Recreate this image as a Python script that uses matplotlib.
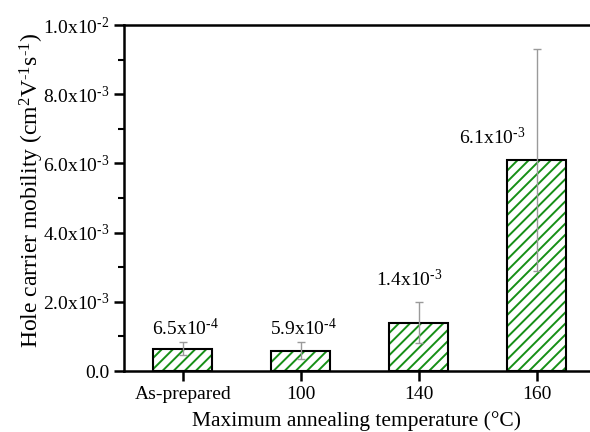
import matplotlib
matplotlib.use('Agg')
import matplotlib.pyplot as plt
from matplotlib.ticker import MultipleLocator

# 数据
categories = ['As-prepared', '100', '140', '160']
mobility = [6.5e-4, 5.9e-4, 1.4e-3, 6.1e-3]
mobility_err = [1.8e-4, 2.5e-4, 6.0e-4, 3.2e-3]
bar_labels = ['6.5x10$^{\\text{-4}}$', '5.9x10$^{\\text{-4}}$',
              '1.4x10$^{\\text{-3}}$', '6.1x10$^{\\text{-3}}$']
ytick_vals = [0.0, 2e-3, 4e-3, 6e-3, 8e-3, 1e-2]
ytick_labels = ['0.0', '2.0x10$^{\\text{-3}}$', '4.0x10$^{\\text{-3}}$',
                '6.0x10$^{\\text{-3}}$', '8.0x10$^{\\text{-3}}$', '1.0x10$^{\\text{-2}}$']

plt.rcParams['font.family'] = ['Liberation Serif', 'DejaVu Serif']
plt.rcParams['mathtext.fontset'] = 'custom'
plt.rcParams['mathtext.rm'] = 'Liberation Serif'
plt.rcParams['mathtext.it'] = 'Liberation Serif'
plt.rcParams['mathtext.default'] = 'regular'
plt.rcParams['hatch.linewidth'] = 1.4

fig = plt.figure(figsize=(5.9, 4.32), dpi=100)
ax = fig.add_axes([0.210, 0.141, 0.790, 0.801])

x = list(range(len(categories)))
# 绿色斜线填充
ax.bar(x, mobility, width=0.5, color='white', edgecolor='#168f16',
       hatch='///', linewidth=0, zorder=2)
# 黑色边框
ax.bar(x, mobility, width=0.5, color='none', edgecolor='black',
       linewidth=1.5, zorder=3)
ax.errorbar(x, mobility, yerr=mobility_err, fmt='none', ecolor='#9a9a9a',
            elinewidth=1.0, capsize=3, capthick=1.0, zorder=4)

# 数值标注
label_pos = [(0.02, 1.05e-3), (0.02, 1.05e-3), (-0.08, 2.45e-3), (-0.38, 6.55e-3)]
for (lx, ly), xi, txt in zip(label_pos, x, bar_labels):
    ax.text(xi + lx, ly, txt, ha='center', va='baseline', fontsize=14)

ax.set_xlim(-0.5, 3.45)
ax.set_ylim(0, 1e-2)
ax.set_xticks(x)
ax.set_xticklabels(categories, fontsize=14)
ax.set_yticks(ytick_vals)
ax.set_yticklabels(ytick_labels, fontsize=14)
ax.yaxis.set_minor_locator(MultipleLocator(1e-3))

ax.spines['right'].set_visible(False)
for s in ['left', 'bottom', 'top']:
    ax.spines[s].set_linewidth(1.8)
ax.tick_params(axis='both', which='major', direction='out', length=7, width=1.8)
ax.tick_params(axis='y', which='minor', direction='out', length=4, width=1.5)
ax.tick_params(axis='x', which='both', top=False)

ax.set_xlabel('Maximum annealing temperature (°C)', fontsize=15.5, labelpad=6)
ax.set_ylabel('Hole carrier mobility (cm$^{2}$V$^{\\text{-1}}$s$^{\\text{-1}}$)',
              fontsize=17)
ax.yaxis.set_label_coords(-0.168, 0.523)

fig.savefig('out.png', dpi=100)
